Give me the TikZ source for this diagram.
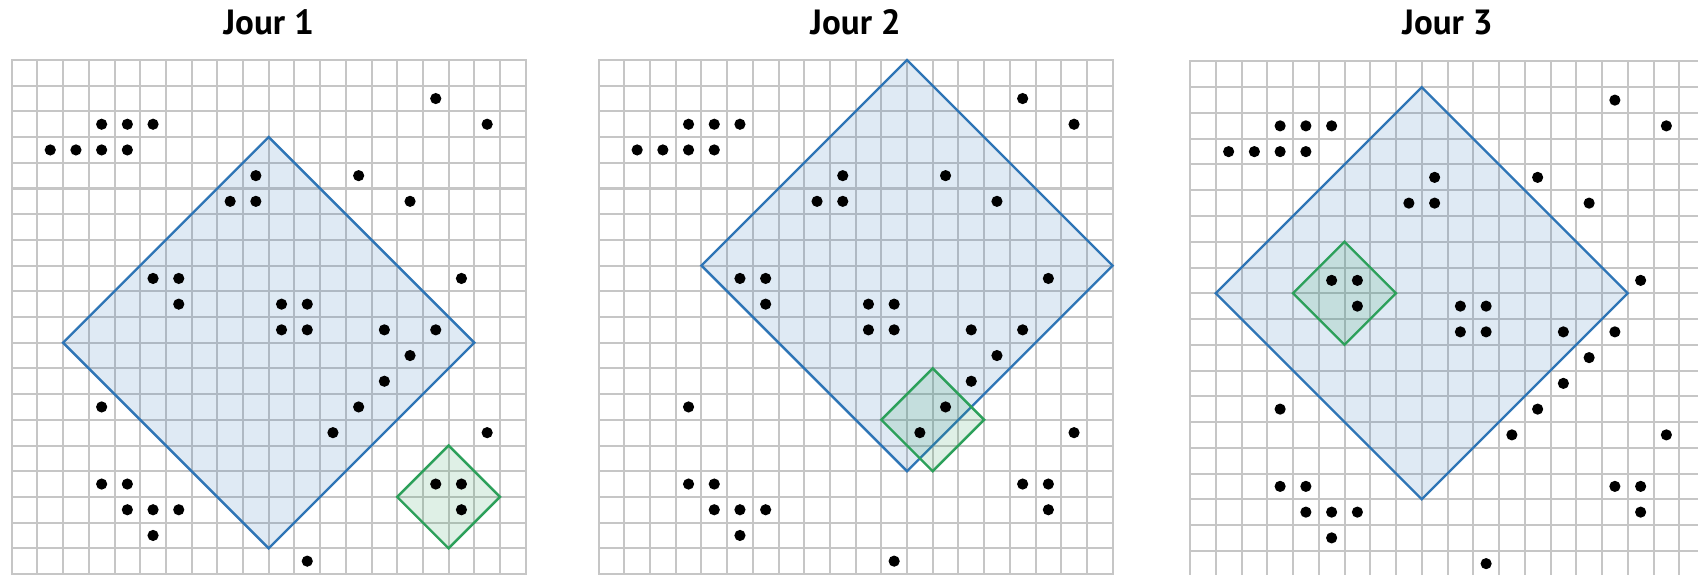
\documentclass[tikz,border=0pt]{standalone}
\usepackage{fontspec}
\setmainfont{PT Sans}
\definecolor{gridc}{RGB}{198,198,198}
\definecolor{bluec}{RGB}{46,117,182}
\definecolor{greenc}{RGB}{44,160,90}
\tikzset{
  gridline/.style={draw=gridc, line width=2pt, line cap=rect},
  bluediamond/.style={draw=bluec, fill=bluec, fill opacity=0.15, line width=2.4pt, line join=miter},
  greendiamond/.style={draw=greenc, fill=greenc, fill opacity=0.15, line width=2.4pt, line join=miter},
  dotmark/.style={fill=black},
  paneltitle/.style={font=\fontsize{35}{40}\selectfont\bfseries, anchor=base, inner sep=0pt}
}
% #1 ox, #2 oy, #3 cell, #4 #5 blue centre, #6 #7 green centre
\newcommand\drawpanel[7]{%
\begin{scope}[shift={(#1,#2)}, x=#3pt, y=-#3pt]
  \foreach \i in {0,...,20} {
    \draw[gridline] (\i,0) -- (\i,20);
    \draw[gridline] (0,\i) -- (20,\i);
  }
  \draw[bluediamond] (#4,#5-8) -- (#4+8,#5) -- (#4,#5+8) -- (#4-8,#5) -- cycle;
  \draw[greendiamond] (#6,#7-2) -- (#6+2,#7) -- (#6,#7+2) -- (#6-2,#7) -- cycle;
  \foreach \c/\r in {16/1, 3/2, 4/2, 5/2, 18/2, 1/3, 2/3, 3/3, 4/3, 9/4, 13/4,
      8/5, 9/5, 15/5, 5/8, 6/8, 17/8, 6/9, 10/9, 11/9, 10/10, 11/10, 14/10, 16/10,
      15/11, 14/12, 3/13, 13/13, 12/14, 18/14, 3/16, 4/16, 16/16, 17/16,
      4/17, 5/17, 6/17, 17/17, 5/18, 11/19}
    \fill[dotmark] (\c+0.5,\r+0.5) circle[radius=5.6pt];
\end{scope}}
\begin{document}
\begin{tikzpicture}[x=1pt,y=-1pt]
  \fill[white] (0,0) rectangle (1698,575);
  \useasboundingbox (0,0) rectangle (1698,575);
  \clip (0,0) rectangle (1698,575);
  \drawpanel{11.7}{60}{25.7}{10}{11}{17}{17}
  \drawpanel{598.6}{60}{25.7}{12}{8}{13}{14}
  \drawpanel{1190}{61.5}{25.75}{9}{9}{6}{9}
  \node[paneltitle] (t1) at (268.7,35) {Jour 1};
  \node[paneltitle] (t2) at (855.6,35) {Jour 2};
  \node[paneltitle] (t3) at (1447.5,35) {Jour 3};
\end{tikzpicture}
\end{document}
